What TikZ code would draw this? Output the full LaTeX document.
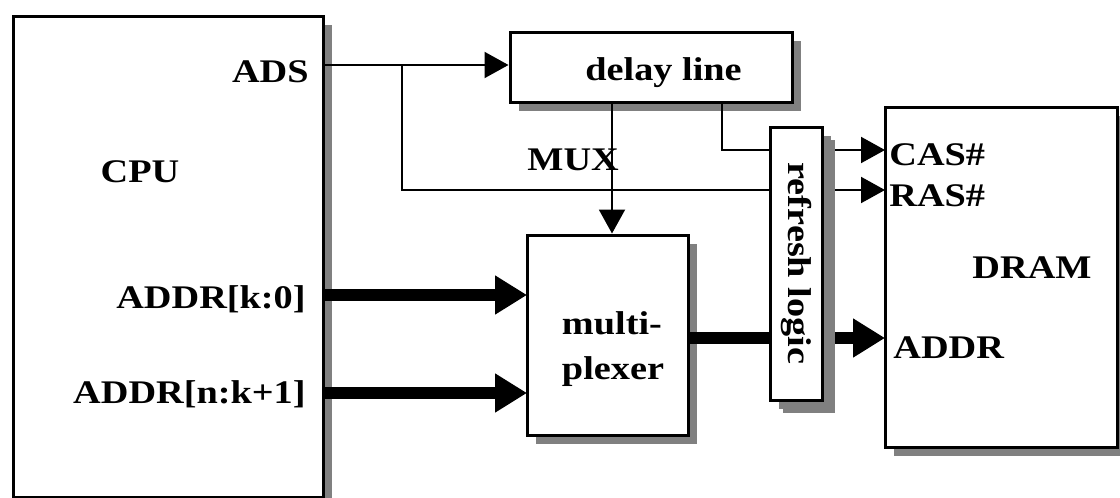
\documentclass[tikz,border=0pt]{standalone}
\usepackage{fontspec}
\setmainfont{Liberation Serif}[FakeStretch=1.16]
\usetikzlibrary{arrows.meta,shadows}

\begin{document}
\begin{tikzpicture}[x=0.5pt,y=-0.5pt]
\tikzstyle{every node}+=[font=\bfseries\fontsize{16.5}{22.5}\selectfont, inner sep=0pt]
\tikzstyle{blk}=[draw, line width=1.5pt, fill=white, drop shadow={shadow xshift=4.5pt, shadow yshift=-4.5pt, fill=black!50, opacity=1}]
\tikzstyle{sig}=[line width=1pt, -{Triangle[length=12pt,width=13pt]}]
\tikzstyle{bus}=[line width=6pt, -{Triangle[length=16pt,width=18.5pt]}]
\useasboundingbox (0,0) rectangle (1120,498);
\node[blk, minimum width=155pt, minimum height=240.5pt] (cpu) at (168,256.5) {};
\node[blk, minimum width=141pt, minimum height=35pt] (delay) at (651,67) {};
\node[blk, minimum width=80.5pt, minimum height=100pt] (mux) at (607.5,335) {};
\node[blk, minimum width=116pt, minimum height=170pt] (dram) at (1001,277) {};
\node[anchor=base west] (dlbl) at (585,80) {delay line};
\node[align=left] (muxtxt) at (613,349) {multi-\\plexer};
\node[anchor=base east] (ads) at (309,82) {ADS};
\node[anchor=base] (cpulbl) at (140,182) {CPU};
\node[anchor=base east] (klo) at (306,308) {ADDR[k:0]};
\node[anchor=base east] (khi) at (306,403) {ADDR[n:k+1]};
\node[anchor=base west] (muxlbl) at (527,170) {MUX};
\node[anchor=base west] (cas) at (889,165) {CAS\#};
\node[anchor=base west] (ras) at (889,206) {RAS\#};
\node[anchor=base west] (addr) at (893,358) {ADDR};
\node[anchor=base] (dramlbl) at (1032,278) {DRAM};
\coordinate (split) at (402,65);
\coordinate (muxtap) at (612,102);
\coordinate (castap) at (722,102);
\coordinate (casin) at (885,150);
\coordinate (rasin) at (885,190);
\coordinate (addrin) at (885,338);
\coordinate (lo) at (527,295);
\coordinate (hi) at (527,393);
\draw[sig] (cpu.east |- split) -- (delay.west |- split);
\draw[sig] (split) |- (rasin);
\draw[sig] (castap) |- (casin);
\draw[sig] (muxtap) -- (muxtap |- mux.north);
\draw[bus] (cpu.east |- lo) -- (lo);
\draw[bus] (cpu.east |- hi) -- (hi);
\draw[bus] (mux.east |- addrin) -- (addrin);
\node[blk, drop shadow={shadow xshift=6.5pt, shadow yshift=-6.5pt, fill=black!50, opacity=1}, minimum width=26pt, minimum height=136.5pt] (refresh) at (796,263.5) {\rotatebox{-90}{refresh logic}};
\end{tikzpicture}
\end{document}
